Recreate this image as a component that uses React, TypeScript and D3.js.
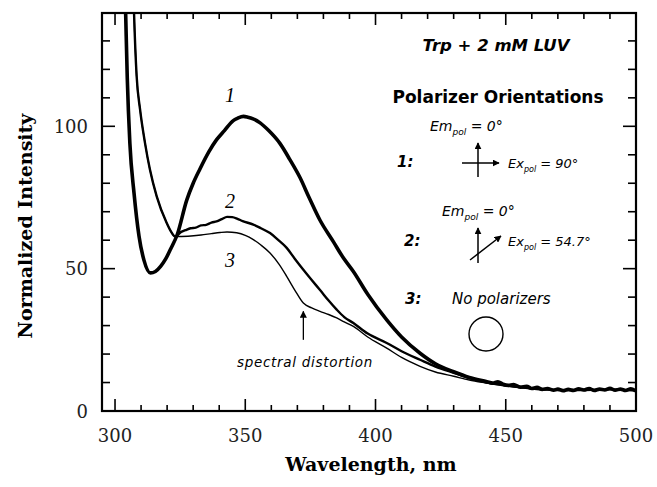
import React from "react";
import * as d3 from "d3";

// curve 1: Em 0°, Ex 90°
const wl1 = [303.4, 304.1, 304.7, 305.7, 307.3, 309.2, 311.1, 313.6, 315.5, 317.5, 319.5, 321.4, 323.9, 327.5, 330, 332.6, 336, 339, 342, 345.4, 347, 349.3, 351, 353, 355.7, 359, 363.3, 367, 371, 374.5, 378.7, 383.8, 387.5, 391.5, 397, 404.3, 410, 417.1, 423, 430, 436, 442.8, 445, 447, 449, 451, 453, 455.6, 458, 460, 462, 464, 466, 468.4, 470, 472, 474, 476, 478, 480, 482, 484, 486, 488, 490, 492, 494, 496, 498, 500];
const int1 = [165, 139, 117, 94, 76.5, 61.5, 53, 48.5, 49, 50.8, 53.5, 57, 62, 74, 80, 85, 91, 95.3, 98.5, 102, 102.8, 103.5, 103.2, 102.6, 101.2, 98.5, 94, 88.5, 82, 75, 67, 59.5, 54, 49, 41, 32, 26, 20.3, 16.6, 13.8, 11.8, 10.3, 9.8, 10.3, 9.4, 9.0, 9.3, 8.4, 8.7, 7.9, 8.3, 7.6, 7.9, 7.3, 7.7, 7.1, 7.6, 7.2, 7.8, 7.4, 7.9, 7.2, 7.7, 7.4, 8.0, 7.3, 7.7, 7.2, 7.8, 7.0];

// curve 2: Em 0°, Ex 54.7°
const wl2 = [306.6, 307.3, 308.3, 309.6, 311.5, 313.4, 316, 319.8, 321.5, 323, 325.4, 327, 329, 331, 333, 335, 337, 339, 341, 343, 345, 347, 349, 353.1, 356, 359.5, 362.5, 365.9, 369, 372.3, 375.5, 378.7, 382, 385.1, 388, 391.5, 397, 404.3, 410, 417.1, 423, 430, 436, 442, 448, 455, 460, 470, 480, 490, 500];
const int2 = [165, 139.8, 117.6, 106, 94.2, 84.8, 75.4, 66.1, 63, 61.3, 62.9, 63.5, 64.2, 64.4, 65.2, 65.4, 66.2, 66.6, 67.4, 68.2, 68.1, 67.5, 66.7, 65.5, 64.2, 62.5, 60.2, 57.3, 53.5, 49.6, 46, 42.5, 38.8, 35.6, 33, 30.9, 27.2, 23.9, 21, 18, 15.6, 13.4, 11.6, 10.2, 9.3, 8.4, 7.9, 7.4, 7.4, 7.6, 7.2];

// curve 3: no polarizers
const wl3 = [306.6, 307.3, 308.3, 309.6, 311.5, 313.4, 316, 319.8, 321.5, 323, 328, 333, 337, 340.3, 343, 346.7, 350, 353.1, 356, 359.5, 363, 365.9, 369, 372.3, 375.5, 378.7, 382, 385.1, 388, 391.5, 397, 404.3, 410, 417.1, 423, 430, 436, 442, 448, 455, 460, 470, 480, 490, 500];
const int3 = [165, 139.8, 117.6, 106, 94.2, 84.8, 75.4, 66.1, 63, 61.3, 61.4, 61.8, 62.3, 62.7, 62.9, 62.6, 61.7, 60.2, 58.3, 55.5, 51.5, 47.3, 42.5, 37.9, 36.2, 35, 33.9, 32.7, 31.3, 29.7, 26, 22.1, 18.8, 15.7, 13.7, 12.2, 10.9, 9.9, 9.0, 8.2, 7.8, 7.4, 7.4, 7.5, 7.2];

const xMajor = [300, 350, 400, 450, 500];
const yMajor = [0, 50, 100];
const curveLabels = ["1", "2", "3"];

const zip = (a: number[], b: number[]) => a.map((v, i) => [v, b[i]] as [number, number]);

export default function App() {
  const x = d3.scaleLinear().domain([295, 500]).range([102, 636]);
  const y = d3.scaleLinear().domain([0, 139.8]).range([411, 13]);
  const line = d3
    .line<[number, number]>()
    .x((d) => x(d[0]))
    .y((d) => y(d[1]))
    .curve(d3.curveMonotoneX);

  const xMinor = d3.range(300, 501, 10);
  const yMinor = d3.range(0, 131, 10);
  const [x0, x1] = x.range();
  const [y0, y1] = y.range();

  const sans = "DejaVu Sans";
  const serif = "DejaVu Serif";

  return (
    <svg width={657} height={487} style={{ position: "absolute", left: 0, top: 0, background: "#fff" }}>
      <defs>
        <clipPath id="plot">
          <rect x={x0} y={y1} width={x1 - x0} height={y0 - y1} />
        </clipPath>
        <marker id="ah" viewBox="0 0 10 10" refX="9" refY="5" markerWidth="7" markerHeight="7" orient="auto" markerUnits="userSpaceOnUse">
          <path d="M0,0 L10,5 L0,10 z" fill="#000" />
        </marker>
      </defs>

      {/* curves */}
      <g clipPath="url(#plot)" fill="none" stroke="#000" strokeLinejoin="round">
        <path d={line(zip(wl3, int3)) || ""} strokeWidth={1.4} />
        <path d={line(zip(wl2, int2)) || ""} strokeWidth={2.4} />
        <path d={line(zip(wl1, int1)) || ""} strokeWidth={3.6} />
      </g>

      {/* ticks, inward on all four sides */}
      <g stroke="#000" strokeWidth={1.6}>
        {xMinor.map((v) => {
          const len = xMajor.includes(v) ? 12 : 6;
          return (
            <g key={"xt" + v}>
              <line x1={x(v)} x2={x(v)} y1={y0} y2={y0 - len} />
              <line x1={x(v)} x2={x(v)} y1={y1} y2={y1 + len} />
            </g>
          );
        })}
        {yMinor.map((v) => {
          const len = yMajor.includes(v) ? 13 : 8;
          return (
            <g key={"yt" + v}>
              <line x1={x0} x2={x0 + len} y1={y(v)} y2={y(v)} />
              <line x1={x1} x2={x1 - len} y1={y(v)} y2={y(v)} />
            </g>
          );
        })}
      </g>

      {/* frame */}
      <rect x={x0} y={y1} width={x1 - x0} height={y0 - y1} fill="none" stroke="#000" strokeWidth={2.2} />

      {/* tick labels */}
      <g fontFamily={serif} fontSize={18} fill="#222">
        {xMajor.map((v) => (
          <text key={"xl" + v} x={x(v)} y={442} textAnchor="middle">{v}</text>
        ))}
        {yMajor.map((v) => (
          <text key={"yl" + v} x={88} y={y(v) + 6.5} textAnchor="end">{v}</text>
        ))}
      </g>

      {/* axis titles */}
      <text x={371} y={471} textAnchor="middle" fontFamily={serif} fontWeight="bold" fontSize={19}>Wavelength, nm</text>
      <text transform="translate(32,226) rotate(-90)" textAnchor="middle" fontFamily={serif} fontWeight="bold" fontSize={19}>Normalized Intensity</text>

      {/* curve numbers */}
      <g fontFamily="Liberation Serif" fontStyle="italic" fontSize={20} textAnchor="middle">
        <text x={230} y={102}>{curveLabels[0]}</text>
        <text x={230} y={208}>{curveLabels[1]}</text>
        <text x={230} y={267}>{curveLabels[2]}</text>
      </g>

      {/* spectral distortion note */}
      <line x1={x(372.3)} x2={x(372.3)} y1={y(25)} y2={y(35)} stroke="#000" strokeWidth={1.3} markerEnd="url(#ah)" />
      <text x={305} y={367} textAnchor="middle" fontFamily={sans} fontStyle="italic" fontSize={13.5} letterSpacing={0.7}>spectral distortion</text>

      {/* legend */}
      <g fontFamily={sans} fill="#000">
        <text x={496} y={51} textAnchor="middle" fontWeight="bold" fontStyle="italic" fontSize={16.5}>Trp + 2 mM LUV</text>
        <text x={498} y={103} textAnchor="middle" fontWeight="bold" fontSize={17}>Polarizer Orientations</text>

        <text x={430} y={131} fontStyle="italic" fontSize={14}>Em<tspan fontSize={9} dy={4}>pol</tspan><tspan dy={-4}> = 0°</tspan></text>
        <text x={397} y={167} fontStyle="italic" fontWeight="bold" fontSize={15}>1:</text>
        <line x1={478} x2={478} y1={177} y2={143} stroke="#000" strokeWidth={1.5} markerEnd="url(#ah)" />
        <line x1={462} x2={499} y1={163} y2={163} stroke="#000" strokeWidth={1.5} markerEnd="url(#ah)" />
        <text x={508} y={168} fontStyle="italic" fontSize={13}>Ex<tspan fontSize={8} dy={4}>pol</tspan><tspan dy={-4}> = 90°</tspan></text>

        <text x={442} y={216} fontStyle="italic" fontSize={14}>Em<tspan fontSize={9} dy={4}>pol</tspan><tspan dy={-4}> = 0°</tspan></text>
        <text x={404} y={246} fontStyle="italic" fontWeight="bold" fontSize={15}>2:</text>
        <line x1={478} x2={478} y1={263} y2={228} stroke="#000" strokeWidth={1.5} markerEnd="url(#ah)" />
        <line x1={470} x2={501} y1={260} y2={236} stroke="#000" strokeWidth={1.5} markerEnd="url(#ah)" />
        <text x={508} y={246} fontStyle="italic" fontSize={13}>Ex<tspan fontSize={8} dy={4}>pol</tspan><tspan dy={-4}> = 54.7°</tspan></text>

        <text x={405} y={304} fontStyle="italic" fontWeight="bold" fontSize={15}>3:</text>
        <text x={452} y={304} fontStyle="italic" fontSize={15}>No polarizers</text>
        <circle cx={486} cy={334} r={17} fill="none" stroke="#000" strokeWidth={1.4} />
      </g>
    </svg>
  );
}
